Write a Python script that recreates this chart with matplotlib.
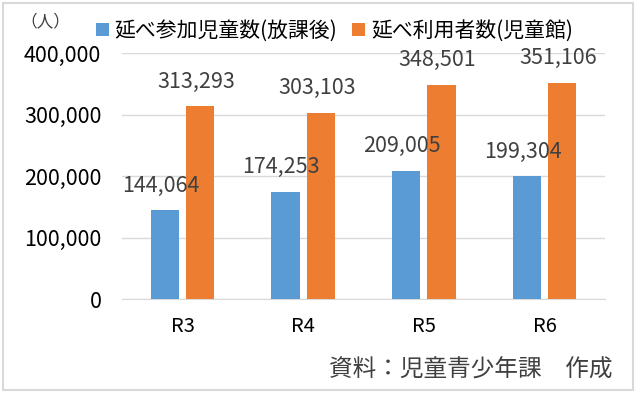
import matplotlib.pyplot as plt
from matplotlib.patches import Rectangle
import numpy as np

plt.rcParams['font.family'] = ['Noto Sans CJK JP', 'DejaVu Sans']

years = ['R3', 'R4', 'R5', 'R6']
houkago = [144064, 174253, 209005, 199304]
jidoukan = [313293, 303103, 348501, 351106]
yticks = [0, 100000, 200000, 300000, 400000]

blue = '#5b9bd5'
orange = '#ed7d31'

fig = plt.figure(figsize=(6.36, 3.93), dpi=100)
ax = fig.add_axes([0.192, 0.239, 0.759, 0.626])

x = np.arange(len(years))
w = 0.235
off = 0.147
b1 = ax.bar(x - off, houkago, w, color=blue, label='延べ参加児童数(放課後)', zorder=3)
b2 = ax.bar(x + off, jidoukan, w, color=orange, label='延べ利用者数(児童館)', zorder=3)

for bars, vals in ((b1, houkago), (b2, jidoukan)):
    for r, v in zip(bars, vals):
        ax.annotate(f'{v:,}', (r.get_x() + r.get_width() / 2, v), xytext=(-3, 10),
                    textcoords='offset points', ha='center', va='bottom',
                    fontsize=15.5, color='#404040')

ax.set_xlim(-0.5, 3.5)
ax.set_ylim(0, 400000)
ax.set_xticks(x)
ax.set_xticklabels(years, fontsize=14.5)
ax.set_yticks(yticks)
ax.set_yticklabels([f'{v:,}' for v in yticks], fontsize=15.5)
ax.tick_params(length=0)
ax.tick_params(axis='x', pad=12)
ax.tick_params(axis='y', pad=15)
ax.grid(axis='y', color='#d9d9d9', lw=1, zorder=0)
for s in ['top', 'right', 'left']:
    ax.spines[s].set_visible(False)
ax.spines['bottom'].set_color('#d9d9d9')

fig.legend(loc='center left', bbox_to_anchor=(0.151, 0.921), ncol=2, frameon=False,
           fontsize=15, handlelength=0.6, handleheight=0.6, handletextpad=0.3,
           columnspacing=0.7, borderpad=0, borderaxespad=0)

fig.text(0.032, 0.945, '（人）', fontsize=12, color='#404040', va='center')
fig.text(0.963, 0.058, '資料：児童青少年課　作成', fontsize=17, color='#404040',
         ha='right', va='center')

fig.patches.append(Rectangle((0.005, 0.007), 0.99, 0.985, transform=fig.transFigure,
                             fill=False, edgecolor='#d9d9d9', lw=1.5))

fig.savefig('out.png', dpi=100)
